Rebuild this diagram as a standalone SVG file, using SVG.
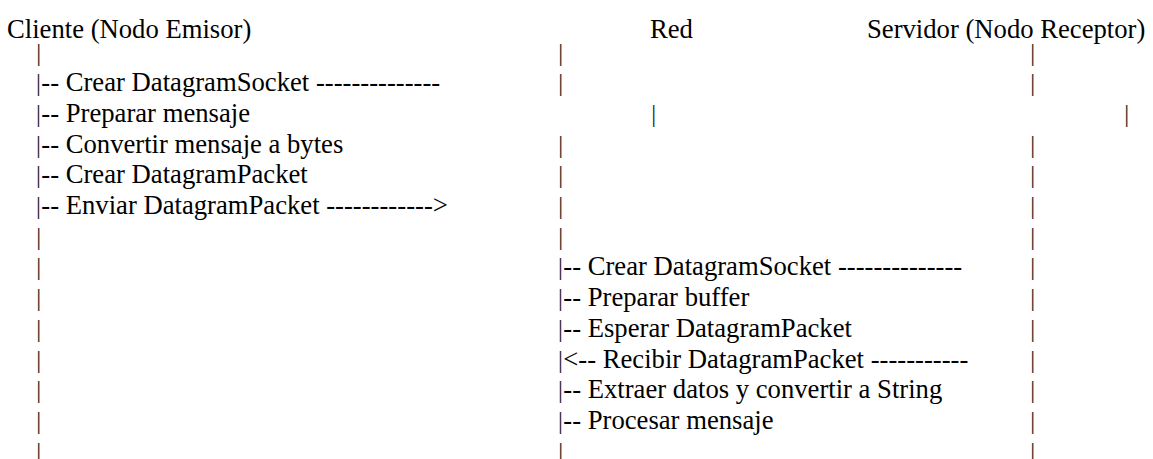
<svg xmlns="http://www.w3.org/2000/svg" width="1153" height="459" viewBox="0 0 1153 459">
<style>
text { font-family: "Liberation Serif", "Times New Roman", serif; font-size: 26.67px; fill: #000; white-space: pre; }
.p { font-size: 24.5px; fill: #222; }
</style>
<rect width="1153" height="459" fill="#fff"/>
<g id="headers">
<text x="7" y="38">Cliente (Nodo Emisor)</text>
<text x="650" y="38">Red</text>
<text x="867" y="38">Servidor (Nodo Receptor)</text>
</g>
<g id="cliente">
<text class="p" x="36.2" y="61">|</text>
<text x="36" y="91.2"><tspan class="p">|</tspan><tspan dx="0.4">-- Crear DatagramSocket --------------</tspan></text>
<text x="36" y="121.9"><tspan class="p">|</tspan><tspan dx="0.4">-- Preparar mensaje</tspan></text>
<text x="36" y="152.6"><tspan class="p">|</tspan><tspan dx="0.4">-- Convertir mensaje a bytes</tspan></text>
<text x="36" y="183.3"><tspan class="p">|</tspan><tspan dx="0.4">-- Crear DatagramPacket</tspan></text>
<text x="36" y="214"><tspan class="p">|</tspan><tspan dx="0.4">-- Enviar DatagramPacket ------------&gt;</tspan></text>
<text class="p" x="36.2" y="244.7">|</text>
<text class="p" x="36.2" y="275.4">|</text>
<text class="p" x="36.2" y="306.1">|</text>
<text class="p" x="36.2" y="336.8">|</text>
<text class="p" x="36.2" y="367.5">|</text>
<text class="p" x="36.2" y="398.2">|</text>
<text class="p" x="36.2" y="428.9">|</text>
<text class="p" x="36.2" y="459.6">|</text>
</g>
<g id="red">
<text class="p" x="558.2" y="61">|</text>
<text class="p" x="558.2" y="91.2">|</text>
<text class="p" x="651.2" y="121.9">|</text>
<text class="p" x="558.2" y="152.6">|</text>
<text class="p" x="558.2" y="183.3">|</text>
<text class="p" x="558.2" y="214">|</text>
<text class="p" x="558.2" y="244.7">|</text>
<text x="558" y="275.4"><tspan class="p">|</tspan><tspan dx="0.4">-- Crear DatagramSocket --------------</tspan></text>
<text x="558" y="306.1"><tspan class="p">|</tspan><tspan dx="0.4">-- Preparar buffer</tspan></text>
<text x="558" y="336.8"><tspan class="p">|</tspan><tspan dx="0.4">-- Esperar DatagramPacket</tspan></text>
<text x="558" y="367.5"><tspan class="p">|</tspan><tspan dx="0.4">&lt;-- Recibir DatagramPacket -----------</tspan></text>
<text x="558" y="398.2"><tspan class="p">|</tspan><tspan dx="0.4">-- Extraer datos y convertir a String</tspan></text>
<text x="558" y="428.9"><tspan class="p">|</tspan><tspan dx="0.4">-- Procesar mensaje</tspan></text>
<text class="p" x="558.2" y="459.6">|</text>
</g>
<g id="servidor">
<text class="p" x="1030.2" y="61">|</text>
<text class="p" x="1030.2" y="91.2">|</text>
<text class="p" x="1124.2" y="121.9">|</text>
<text class="p" x="1030.2" y="152.6">|</text>
<text class="p" x="1030.2" y="183.3">|</text>
<text class="p" x="1030.2" y="214">|</text>
<text class="p" x="1030.2" y="244.7">|</text>
<text class="p" x="1030.2" y="275.4">|</text>
<text class="p" x="1030.2" y="306.1">|</text>
<text class="p" x="1030.2" y="336.8">|</text>
<text class="p" x="1030.2" y="367.5">|</text>
<text class="p" x="1030.2" y="398.2">|</text>
<text class="p" x="1030.2" y="428.9">|</text>
<text class="p" x="1030.2" y="459.6">|</text>
</g>
</svg>
